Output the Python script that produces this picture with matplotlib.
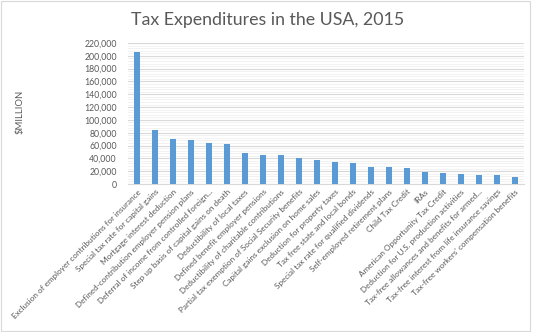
import matplotlib
matplotlib.use("Agg")
import matplotlib.pyplot as plt
from matplotlib.ticker import MultipleLocator, FuncFormatter
from matplotlib.patches import Rectangle

categories = [
    "Exclusion of employer contributions for insurance",
    "Special tax rate for capital gains",
    "Mortgage interest deduction",
    "Defined-contribution employer pension plans",
    "Deferral of income from controlled foreign...",
    "Step up basis of capital gains on death",
    "Deductibility of local taxes",
    "Defined benefit employer pensions",
    "Deductibility of charitable contributions",
    "Partial tax exemption of Social Security benefits",
    "Capital gains exclusion on home sales",
    "Deduction for property taxes",
    "Tax free state and local bonds",
    "Special tax rate for qualified dividends",
    "Self-employed retirement plans",
    "Child Tax Credit",
    "IRAs",
    "American Opportunity Tax Credit",
    "Deduction for U.S. production activities",
    "Tax-free allowances and benefits for armed...",
    "Tax-free interest from life insurance savings",
    "Tax-free workers' compensation benefits",
]
values = [206000, 85000, 70500, 68000, 64500, 63000, 48000, 44500, 44500,
          40500, 37500, 34000, 32000, 27000, 26000, 24500, 18000, 16500,
          15500, 14000, 14000, 11000]

plt.rcParams['font.family'] = ['Lato', 'DejaVu Sans']
W, H = 535, 332
fig = plt.figure(figsize=(W/100, H/100), dpi=100)
ax = fig.add_axes([128/W, 1-184/H, (524-128)/W, (184-43)/H])

x = range(len(categories))
ax.bar(x, values, width=0.33, color="#5b9bd5", zorder=3)
ax.set_xlim(-0.5, len(categories)-0.5)
ax.set_ylim(0, 220000)
ax.yaxis.set_major_locator(MultipleLocator(20000))
ax.yaxis.set_minor_locator(MultipleLocator(4000))
ax.yaxis.set_major_formatter(FuncFormatter(lambda v, p: f"{int(v):,}"))
ax.grid(axis='y', which='major', color="#d9d9d9", linewidth=0.8, zorder=0)
ax.grid(axis='y', which='minor', color="#f0f0f0", linewidth=0.6, zorder=0)
for s in ax.spines.values():
    s.set_visible(False)
ax.spines['bottom'].set_visible(True)
ax.spines['bottom'].set_color("#d9d9d9")
ax.tick_params(axis='y', which='both', length=0, labelsize=6.3, colors="#595959", pad=8)
ax.tick_params(axis='x', length=0, labelsize=5.9, colors="#595959", pad=3)
ax.set_xticks(list(x))
ax.set_xticklabels(categories, rotation=45, ha='right', rotation_mode='anchor')

fig.text(20/W, 1-112/H, "$MILLION", rotation=90, ha='center', va='center',
         fontsize=6.8, color="#595959")
fig.text(0.5, 1-20/H, "Tax Expenditures in the USA, 2015", ha='center', va='center',
         fontsize=12.8, color="#595959")
fig.patches.append(Rectangle((1/W, 1/H), 529/W, 1-2/H, transform=fig.transFigure,
                             fill=False, edgecolor="#d9d9d9", linewidth=0.8))
fig.savefig("out.png", dpi=100)
